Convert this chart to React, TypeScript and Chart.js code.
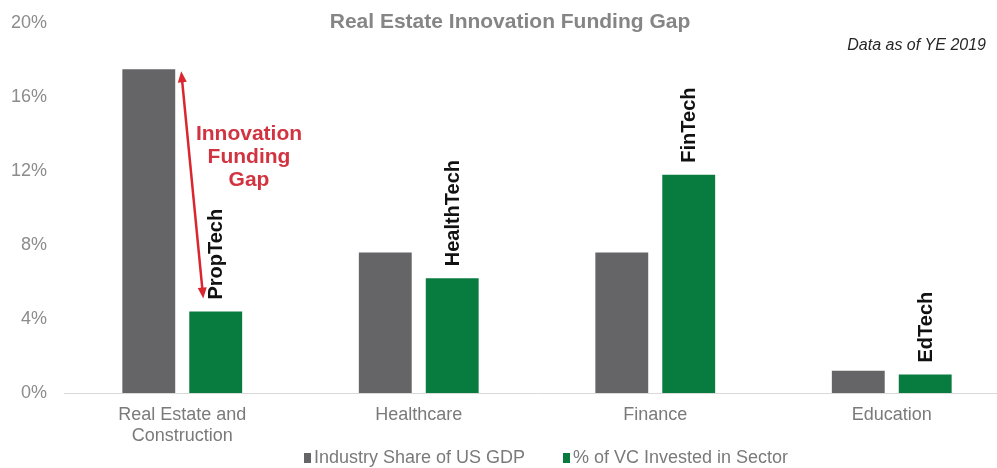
import React, { useEffect, useRef } from "react";
import { Chart, registerables } from "chart.js";

Chart.register(...registerables);

const categories: (string | string[])[] = [
  ["Real Estate and", "Construction"],
  "Healthcare",
  "Finance",
  "Education",
];
const gdpShare = [17.5, 7.6, 7.6, 1.2];
const vcShare = [4.4, 6.2, 11.8, 1.0];
const techLabels = ["PropTech", "HealthTech", "FinTech", "EdTech"];
const seriesNames = ["Industry Share of US GDP", "% of VC Invested in Sector"];
const yTicks = [0, 4, 8, 12, 16, 20];
const titleText = "Real Estate Innovation Funding Gap";
const noteText = "Data as of YE 2019";
const gapText = ["Innovation", "Funding", "Gap"];

const GRAY = "#656568";
const GREEN = "#087b3e";
const RED = "#d9262f";
const FONT = "'Liberation Sans', Arial, sans-serif";

const annotate = {
  id: "annotate",
  afterDraw(chart: any) {
    const ctx = chart.ctx;
    const gMeta = chart.getDatasetMeta(0);
    const vMeta = chart.getDatasetMeta(1);
    ctx.save();

    // Title
    ctx.fillStyle = "#858585";
    ctx.font = `bold 21px ${FONT}`;
    ctx.textAlign = "center";
    ctx.textBaseline = "middle";
    ctx.fillText(titleText, 510, 22);

    // Note
    ctx.fillStyle = "#262626";
    ctx.font = `italic 16px ${FONT}`;
    ctx.textAlign = "right";
    ctx.fillText(noteText, 986, 46);

    // Rotated tech labels
    ctx.fillStyle = "#111111";
    ctx.font = `bold 20px ${FONT}`;
    vMeta.data.forEach((bar: any, i: number) => {
      ctx.save();
      ctx.translate(bar.x + 1, bar.y - 12);
      ctx.rotate(-Math.PI / 2);
      ctx.textAlign = "left";
      ctx.textBaseline = "middle";
      ctx.fillText(techLabels[i], 0, 0);
      ctx.restore();
    });

    // Gap arrow
    const g0 = gMeta.data[0];
    const v0 = vMeta.data[0];
    const x1 = g0.x + g0.width / 2 + 6;
    const y1 = g0.y + 2;
    const x2 = v0.x - v0.width / 2 + 14;
    const y2 = v0.y - 13;
    const ang = Math.atan2(y2 - y1, x2 - x1);
    const hl = 11;
    const hw = 4.5;
    ctx.strokeStyle = RED;
    ctx.fillStyle = RED;
    ctx.lineWidth = 2.5;
    ctx.beginPath();
    ctx.moveTo(x1 + Math.cos(ang) * hl * 0.8, y1 + Math.sin(ang) * hl * 0.8);
    ctx.lineTo(x2 - Math.cos(ang) * hl * 0.8, y2 - Math.sin(ang) * hl * 0.8);
    ctx.stroke();
    const head = (tx: number, ty: number, a: number) => {
      ctx.beginPath();
      ctx.moveTo(tx, ty);
      ctx.lineTo(
        tx - Math.cos(a) * hl + Math.cos(a + Math.PI / 2) * hw,
        ty - Math.sin(a) * hl + Math.sin(a + Math.PI / 2) * hw
      );
      ctx.lineTo(
        tx - Math.cos(a) * hl - Math.cos(a + Math.PI / 2) * hw,
        ty - Math.sin(a) * hl - Math.sin(a + Math.PI / 2) * hw
      );
      ctx.closePath();
      ctx.fill();
    };
    head(x2, y2, ang);
    head(x1, y1, ang + Math.PI);

    // Gap text
    ctx.fillStyle = "#d23340";
    ctx.font = `bold 21px ${FONT}`;
    ctx.textAlign = "center";
    ctx.textBaseline = "middle";
    gapText.forEach((t, i) => ctx.fillText(t, 249, 134 + i * 23));

    // Legend
    ctx.font = `18px ${FONT}`;
    ctx.textAlign = "left";
    ctx.textBaseline = "middle";
    const ly = 458;
    const items = [
      { x: 304, color: GRAY },
      { x: 563, color: GREEN },
    ];
    items.forEach((it, i) => {
      ctx.fillStyle = it.color;
      ctx.fillRect(it.x, ly - 5, 7, 10);
      ctx.fillStyle = "#7a7a7a";
      ctx.fillText(seriesNames[i], it.x + 10, ly);
    });

    ctx.restore();
  },
};

export default function App() {
  const ref = useRef<HTMLCanvasElement>(null);
  useEffect(() => {
    if (!ref.current) return;
    const chart = new Chart(ref.current, {
      type: "bar",
      data: {
        labels: categories as any,
        datasets: [
          {
            label: seriesNames[0],
            data: gdpShare,
            backgroundColor: GRAY,
            barPercentage: 0.79,
            categoryPercentage: 0.566,
          },
          {
            label: seriesNames[1],
            data: vcShare,
            backgroundColor: GREEN,
            barPercentage: 0.79,
            categoryPercentage: 0.566,
          },
        ],
      },
      options: {
        animation: false,
        responsive: false,
        maintainAspectRatio: false,
        layout: { padding: { top: 23, right: 5, left: 0, bottom: 0 } },
        plugins: {
          legend: { display: false },
          title: { display: false },
          tooltip: { enabled: false },
        },
        scales: {
          x: {
            grid: { display: false, drawTicks: false },
            border: { display: true, color: "#d9d9d9", width: 1 },
            ticks: {
              color: "#7a7a7a",
              font: { family: FONT, size: 18, lineHeight: 1.2 },
              padding: 11,
              maxRotation: 0,
              autoSkip: false,
            },
            afterFit: (s: any) => {
              s.height = 75;
              s.paddingLeft = 0;
              s.paddingRight = 0;
            },
          },
          y: {
            min: 0,
            max: 20,
            afterBuildTicks: (s: any) => {
              s.ticks = yTicks.map((v) => ({ value: v }));
            },
            grid: { display: false, drawTicks: false },
            border: { display: false },
            ticks: {
              color: "#8c8c8c",
              font: { family: FONT, size: 18 },
              padding: 17,
              callback: (v: any) => `${v}%`,
            },
            afterFit: (s: any) => {
              s.width = 64;
              s.paddingTop = 0;
              s.paddingBottom = 0;
            },
          },
        },
      },
      plugins: [annotate],
    });
    return () => chart.destroy();
  }, []);
  return (
    <div
      style={{
        position: "fixed",
        left: 0,
        top: 0,
        width: 997,
        height: 468,
        overflow: "hidden",
        background: "#fff",
      }}
    >
      <canvas ref={ref} width={1015} height={468} style={{ width: 1015, height: 468, display: "block" }} />
    </div>
  );
}
